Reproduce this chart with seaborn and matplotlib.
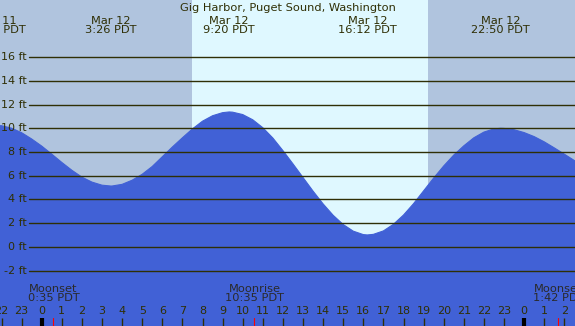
import matplotlib
matplotlib.use("Agg")
import matplotlib.pyplot as plt
import matplotlib.transforms as mtransforms
import seaborn as sns
import pandas as pd

# ---- data (hours relative to Mar 12 00:00 PDT, heights in ft) ----
hours = [-2.5, -2.0, -1.5, -1.0, -0.5, 0.0, 0.5, 1.0, 1.5, 2.0, 2.5, 3.0, 3.43,
         3.5, 4.0, 4.5, 5.0, 5.5, 6.0, 6.5, 7.0, 7.5, 8.0, 8.5, 9.0, 9.33,
         9.5, 10.0, 10.5, 11.0, 11.5, 12.0, 12.5, 13.0, 13.5, 14.0, 14.5, 15.0, 15.5, 16.0, 16.2,
         16.5, 17.0, 17.5, 18.0, 18.5, 19.0, 19.5, 20.0, 20.5, 21.0, 21.5, 22.0, 22.5, 22.83,
         23.0, 23.5, 24.0, 24.5, 25.0, 25.5, 26.0, 26.5, 27.0]
heights = [10.24, 10.22, 10.01, 9.63, 9.10, 8.50, 7.82, 7.12, 6.46, 5.88, 5.46, 5.20, 5.13,
           5.13, 5.27, 5.62, 6.12, 6.78, 7.60, 8.42, 9.20, 9.95, 10.60, 11.06, 11.32, 11.38,
           11.36, 11.16, 10.72, 10.05, 9.18, 8.12, 7.00, 5.85, 4.70, 3.62, 2.66, 1.88, 1.32, 1.03, 1.00,
           1.05, 1.34, 1.90, 2.68, 3.64, 4.72, 5.80, 6.82, 7.74, 8.52, 9.20, 9.68, 9.95, 10.00,
           9.99, 9.88, 9.64, 9.30, 8.86, 8.35, 7.82, 7.28, 6.77]

extreme_times = [-2.25, 3.43, 9.33, 16.2, 22.83]
extreme_labels = ["Mar 11\n21:45 PDT", "Mar 12\n3:26 PDT", "Mar 12\n9:20 PDT",
                  "Mar 12\n16:12 PDT", "Mar 12\n22:50 PDT"]

moon_times = [0.583, 10.583, 25.7]
moon_labels = ["Moonset\n0:35 PDT", "Moonrise\n10:35 PDT", "Moonset\n1:42 PDT"]

sunrise, sunset = 7.48, 19.22

ft_ticks = [-2, 0, 2, 4, 6, 8, 10, 12, 14, 16]
hour_ticks = list(range(-2, 27))
hour_labels = [str(h % 24) for h in hour_ticks]

title = "Gig Harbor, Puget Sound, Washington"

# ---- style ----
night = "#b0c4de"
day = "#dff8ff"
water = "#4161d6"
ink = "#2f2f05"

sns.set_style("white")
plt.rcParams['font.family'] = ['DejaVu Sans']

W, H = 575, 326
fig = plt.figure(figsize=(W / 100, H / 100), dpi=100)
ax = fig.add_axes([0, 0, 1, 1])
ax.set_facecolor(night)

x0 = -41.7 / 20.1
x1 = x0 + W / 20.1
ypx = 11.85
y_top = 246.8 / ypx
y_bot = -(H - 246.8) / ypx
ax.set_xlim(x0, x1)
ax.set_ylim(y_bot, y_top)

ax.axvspan(sunrise, sunset, color=day, lw=0, zorder=0)

df = pd.DataFrame({"hour": hours, "ft": heights})
ax.fill_between(df["hour"], df["ft"], y_bot - 5, color=water, lw=0, zorder=1)
sns.lineplot(data=df, x="hour", y="ft", ax=ax, color=water, lw=0.8, zorder=2)

# horizontal grid lines and labels
ytrans = mtransforms.blended_transform_factory(ax.transAxes, ax.transData)
for v in ft_ticks:
    ax.axhline(v, xmin=29 / W, xmax=1, color=ink, lw=1.0, zorder=3)
    ax.text(27 / W, v, f"{v} ft", transform=ytrans,
            ha="right", va="center", fontsize=8, color=ink, zorder=4)

trans = mtransforms.blended_transform_factory(ax.transData, ax.transAxes)

# title and extremes labels
ax.text(0.5, 1 - 8 / H, title, transform=ax.transAxes, ha="center", va="center",
        fontsize=8.2, color=ink)
for t, lab in zip(extreme_times, extreme_labels):
    ax.text(t, 1 - 25.5 / H, lab, transform=trans, ha="center", va="center",
            fontsize=8.2, color=ink, linespacing=0.95)

# moon labels and red ticks
for t, lab in zip(moon_times, moon_labels):
    ax.text(t, 1 - 293.5 / H, lab, transform=trans, ha="center", va="center",
            fontsize=8.2, color="#2a2a2a", linespacing=0.95)
    ax.plot([t, t], [0, 8 / H], transform=trans, color="red", lw=0.8, zorder=5)

# hour ticks
for h, lab in zip(hour_ticks, hour_labels):
    midnight = (h % 24 == 0)
    ax.plot([h, h], [0, 8 / H], transform=trans, color="black" if midnight else ink,
            lw=3 if midnight else 1.0, zorder=5, solid_capstyle="butt")
    ax.text(h, 1 - 311.5 / H, lab, transform=trans, ha="center", va="center",
            fontsize=8, color=ink)

ax.set_xlabel("")
ax.set_ylabel("")
ax.set_xticks([])
ax.set_yticks([])
for s in ax.spines.values():
    s.set_visible(False)

fig.savefig("out.png", dpi=100)
